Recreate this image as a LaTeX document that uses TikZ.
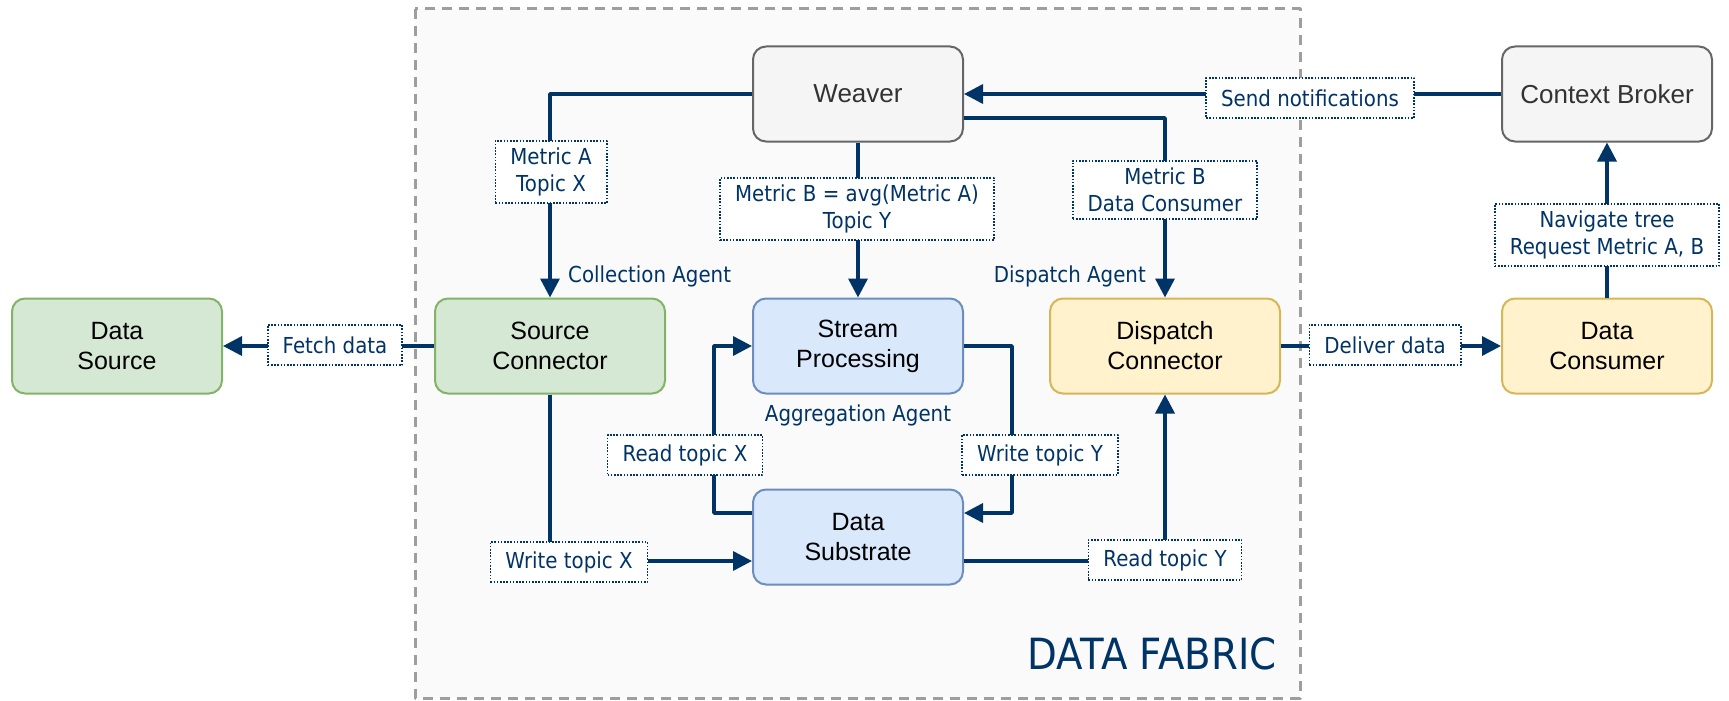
\documentclass[tikz,border=0pt]{standalone}
\usepackage{fontspec}
\setmainfont{Liberation Sans}
\newfontfamily\lblfont{DejaVu Sans}[FakeStretch=0.9]
\usetikzlibrary{arrows.meta}

\definecolor{linkblue}{HTML}{003366}
\definecolor{greenfill}{HTML}{D5E8D4}
\definecolor{greenline}{HTML}{82B366}
\definecolor{bluefill}{HTML}{DAE8FC}
\definecolor{blueline}{HTML}{6C8EBF}
\definecolor{yellowfill}{HTML}{FFF2CC}
\definecolor{yellowline}{HTML}{D6B656}
\definecolor{grayfill}{HTML}{F5F5F5}
\definecolor{grayline}{HTML}{666666}
\definecolor{fabricfill}{HTML}{FAFAFA}
\definecolor{fabricline}{HTML}{9E9E9E}

\begin{document}
\begin{tikzpicture}[x=1pt, y=-1pt, line join=round, >={Triangle[length=19pt,width=19pt]},
  comp/.style={draw, line width=2pt, rounded corners=13pt, minimum width=210pt, minimum height=95pt,
    align=center, font=\fontsize{25}{30}\selectfont},
  greenbox/.style={fill=greenfill, draw=greenline},
  bluebox/.style={fill=bluefill, draw=blueline},
  yellowbox/.style={fill=yellowfill, draw=yellowline},
  graybox/.style={fill=grayfill, draw=grayline, text=black!80, font=\fontsize{26}{30}\selectfont},
  link/.style={draw=linkblue, line width=3.5pt, ->},
  lbl/.style={draw=linkblue, line width=1.6pt, dash pattern=on 1.6pt off 1.6pt, fill=white, text=linkblue,
    align=center, inner xsep=15pt, inner ysep=7pt, minimum height=40pt,
    font=\lblfont\fontsize{22}{27}\selectfont},
  agent/.style={text=linkblue, inner sep=0pt, font=\lblfont\fontsize{22}{27}\selectfont}]
  \useasboundingbox (0,0) rectangle (1729,701);

  % fabric area
  \draw[fill=fabricfill, draw=fabricline, line width=3pt, dash pattern=on 10pt off 7pt] (415,9) rectangle (1300,698);
  \node[agent, anchor=base east, font=\lblfont\fontsize{43}{50}\selectfont] (fabric) at (1277,669) {DATA FABRIC};

  % components
  \node[comp, greenbox] (src) at (117,346) {Data\\Source};
  \node[comp, greenbox, minimum width=230pt] (scon) at (550,346) {Source\\Connector};
  \node[comp, bluebox] (sproc) at (858,346) {Stream\\Processing};
  \node[comp, yellowbox, minimum width=230pt] (dcon) at (1165,346) {Dispatch\\Connector};
  \node[comp, yellowbox] (cons) at (1607,346) {Data\\Consumer};
  \node[comp, graybox] (weaver) at (858,94) {Weaver};
  \node[comp, graybox] (broker) at (1607,94) {Context Broker};
  \node[comp, bluebox] (subs) at (858,537) {Data\\Substrate};

  % agents
  \node[agent, anchor=west] (collect) at (568,276) {Collection Agent};
  \node[agent, anchor=east] (dispatch) at (1146,276) {Dispatch Agent};
  \node[agent] (aggr) at (858,415) {Aggregation Agent};

  % connectors
  \draw[link] (weaver.west) -| (scon.north);
  \draw[link] (weaver.south) -- (sproc.north);
  \draw[link] ([yshift=-24pt]weaver.east) -| (dcon.north);
  \draw[link] (broker.west) -- (weaver.east);
  \draw[link] (cons.north) -- (broker.south);
  \draw[link] (scon.west) -- (src.east);
  \draw[link] (dcon.east) -- (cons.west);
  \draw[link] (scon.south) |- ([yshift=-24pt]subs.west);
  \draw[link] ([yshift=-24pt]subs.east) -| (dcon.south);
  \draw[link] ([yshift=24pt]subs.west) -- ++(-38,0) |- (sproc.west);
  \draw[link] (sproc.east) -- ++(48,0) |- ([yshift=24pt]subs.east);

  % connector labels
  \node[lbl] (lfetch) at (335,345) {Fetch data};
  \node[lbl] (lma) at (551,172) {Metric A\\Topic X};
  \node[lbl] (lmb) at (857,209) {Metric B = avg(Metric A)\\Topic Y};
  \node[lbl] (lmbc) at (1165,190) {Metric B\\Data Consumer};
  \node[lbl] (lsend) at (1310,98) {Send notifications};
  \node[lbl] (lnav) at (1607,235) {Navigate tree\\Request Metric A, B};
  \node[lbl] (ldeliver) at (1385,345) {Deliver data};
  \node[lbl] (lwx) at (569,562) {Write topic X};
  \node[lbl] (lrx) at (685,455) {Read topic X};
  \node[lbl] (lwy) at (1040,455) {Write topic Y};
  \node[lbl] (lry) at (1165,560) {Read topic Y};
\end{tikzpicture}
\end{document}
